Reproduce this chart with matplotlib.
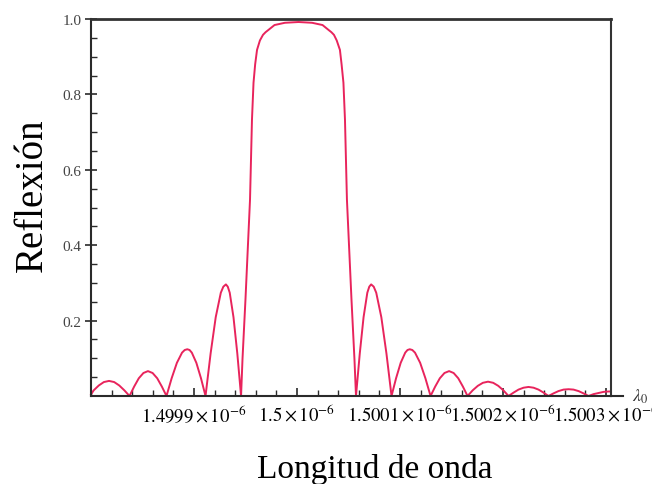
'''Espectro de reflexión de una red de Bragg (recreación del gráfico).'''

import numpy as np
import matplotlib
matplotlib.use('Agg')
import matplotlib.pyplot as plt
from matplotlib.lines import Line2D

# Datos: desplazamiento respecto de 1.5 um (en pm) y reflexión
lambda_centro = 1.5e-6
desp_pm = [
    # lóbulos laterales izquierdos
    -200.0, -197.4, -192.4, -187.5, -182.5, -177.5, -172.6, -167.6, -162.6,
    -158.1, -153.6, -149.1, -144.7, -140.2, -135.7, -131.2, -126.7,
    -121.7, -116.6, -111.6, -109.0, -106.5, -104.3, -102.1, -97.7, -93.2, -88.8,
    -83.85, -78.9, -73.95, -71.5, -69.0, -67.2, -65.3, -61.65, -57.95, -54.3,
    # lóbulo principal
    -52.9, -50.0, -45.6, -43.7, -42.2, -40.6, -38.8, -36.0, -33.0, -30.5,
    -28.2, -21.8, -11.7, 1.5, 14.6, 24.8, 31.1, 33.4, 35.9, 38.6, 41.7,
    43.3, 45.1, 46.6, 48.5, 52.9, 55.8, 57.3,
    # lóbulos laterales derechos
    60.98, 64.65, 68.3, 70.2, 72.0, 74.5, 76.95, 81.9, 86.85, 91.8,
    96.2, 100.7, 105.1, 107.3, 109.5, 112.0, 114.6, 119.6, 124.7, 129.7,
    134.2, 138.7, 143.2, 147.7, 152.1, 156.6, 161.1, 165.6,
    170.6, 175.6, 180.5, 185.5, 190.5, 195.4, 200.4, 205.4,
    210.3, 215.1, 220.0, 224.8, 229.7, 234.5, 239.4, 244.2,
    249.1, 253.9, 258.8, 263.7, 268.5, 273.4, 278.2, 283.1,
    288.0, 292.9, 297.8, 302.6, 304.9,
]
reflexion = [
    0.004, 0.015, 0.028, 0.037, 0.040, 0.037, 0.028, 0.015, 0.0,
    0.025, 0.047, 0.061, 0.066, 0.061, 0.047, 0.025, 0.0,
    0.047, 0.088, 0.115, 0.122, 0.124, 0.122, 0.115, 0.088, 0.047, 0.0,
    0.113, 0.209, 0.274, 0.290, 0.296, 0.290, 0.274, 0.209, 0.113, 0.0,
    0.098, 0.257, 0.521, 0.733, 0.831, 0.880, 0.918, 0.943, 0.958, 0.965,
    0.970, 0.984, 0.990, 0.992, 0.990, 0.984, 0.970, 0.965, 0.958, 0.943, 0.918,
    0.880, 0.831, 0.733, 0.521, 0.257, 0.098, 0.0,
    0.113, 0.209, 0.274, 0.290, 0.296, 0.290, 0.274, 0.209, 0.113, 0.0,
    0.047, 0.088, 0.115, 0.122, 0.124, 0.122, 0.115, 0.088, 0.047, 0.0,
    0.025, 0.047, 0.061, 0.066, 0.061, 0.047, 0.025, 0.0,
    0.015, 0.027, 0.035, 0.038, 0.035, 0.027, 0.015, 0.0,
    0.009, 0.017, 0.022, 0.024, 0.022, 0.017, 0.009, 0.0,
    0.007, 0.013, 0.017, 0.018, 0.017, 0.013, 0.007, 0.0,
    0.005, 0.008, 0.011, 0.012, 0.012,
]

# Marcas del eje X
ticks_x = [1.4999e-6, 1.5e-6, 1.5001e-6, 1.5002e-6, 1.5003e-6]
etiquetas_x = ['1.4999', '1.5', '1.5001', '1.5002', '1.5003']
ticks_y = [0.2, 0.4, 0.6, 0.8, 1.0]

longitud = lambda_centro + np.array(desp_pm) * 1e-12

plt.rcParams['font.family'] = ['Liberation Serif', 'DejaVu Serif']
plt.rcParams['mathtext.fontset'] = 'stix'

color_curva = '#e8245c'
color_ejes = '#2a2a2a'

fig = plt.figure(figsize=(6.52, 4.85), dpi=100)
ax = fig.add_axes([91/652, 1 - 397/485, 520/652, 377/485])

ax.plot(longitud, reflexion, color=color_curva, lw=1.4, clip_on=False)

ax.set_xlim(lambda_centro - 200e-12, lambda_centro + 304.9e-12)
ax.set_ylim(0, 1.0)

# Ticks
ax.set_xticks(ticks_x)
ax.set_xticklabels([rf'${e}\times10^{{-6}}$' for e in etiquetas_x], fontsize=13.5)
ax.set_xticks(lambda_centro + np.arange(-10, 16) * 2e-11, minor=True)
ax.set_yticks(ticks_y)
ax.set_yticklabels([f'{v:.1f}' for v in ticks_y], fontsize=11, color='#444444')
ax.set_yticks(np.arange(0.05, 1.0, 0.05), minor=True)

ax.tick_params(axis='x', which='major', direction='in', length=6, width=1.2,
               pad=5, color=color_ejes)
ax.tick_params(axis='x', which='minor', direction='in', length=4, width=1.0,
               color=color_ejes)
ax.tick_params(axis='y', which='major', direction='inout', length=8, width=1.2,
               pad=3, color=color_ejes)
ax.tick_params(axis='y', which='minor', direction='in', length=4, width=1.0,
               color=color_ejes)

for lado in ['left', 'bottom']:
    ax.spines[lado].set_linewidth(1.5)
    ax.spines[lado].set_color(color_ejes)
ax.spines['top'].set_linewidth(2.0)
ax.spines['top'].set_color('#333333')
ax.spines['right'].set_linewidth(1.5)
ax.spines['right'].set_color('#333333')

# El eje X continúa un poco más allá del marco
ax.add_line(Line2D([1.0, 1.024], [0, 0], transform=ax.transAxes,
                   color=color_ejes, lw=1.5, clip_on=False))
ax.text(1.04, 0.0, r'$\lambda_0$', transform=ax.transAxes, fontsize=13,
        ha='left', va='center', color='#333333')

ax.set_xlabel('Longitud de onda', fontsize=24)
ax.xaxis.set_label_coords(0.546, -0.152)
ax.set_ylabel('Reflexión', fontsize=28)
ax.yaxis.set_label_coords(-0.078, 0.535)

fig.savefig('out.png', dpi=100)
